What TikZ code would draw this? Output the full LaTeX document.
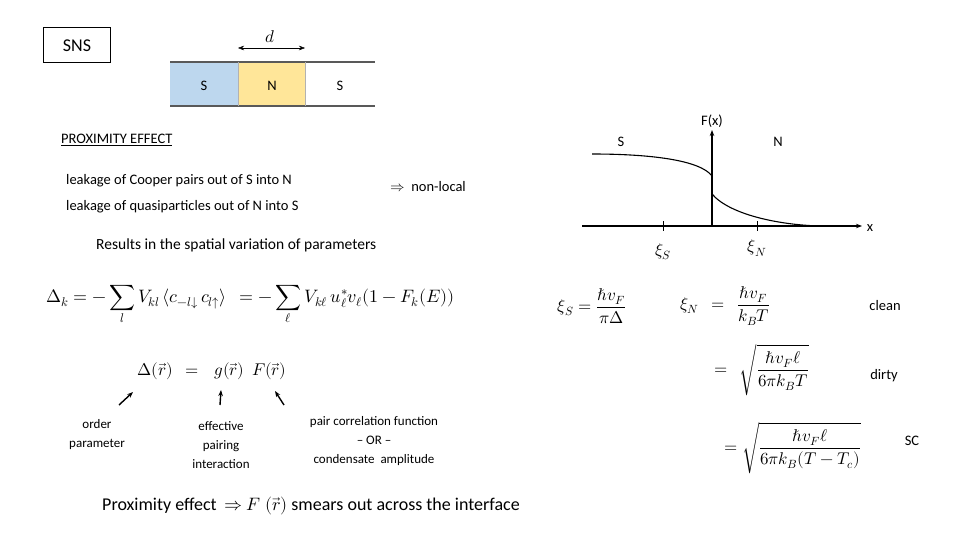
\documentclass[tikz,border=0pt]{standalone}
\usepackage{amsmath,amssymb}
\usepackage{fontspec}
\setmainfont{Carlito}
\usepackage{unicode-math}
\setmathfont{Latin Modern Math}
\usetikzlibrary{arrows.meta}
\begin{document}
\begin{tikzpicture}[x=1pt,y=-1pt,
 txt/.style={font=\fontsize{14.5}{17.5}\selectfont, inner sep=0pt},
 eq/.style={font=\fontsize{17}{20}\selectfont, inner sep=0pt},
 arr/.style={-{Stealth[length=6pt]}, line width=1.4pt}]
\useasboundingbox (0,0) rectangle (960,540);
% SNS
\node[draw, line width=1pt, minimum width=67pt, minimum height=35pt, font=\fontsize{18}{20}\selectfont] (sns) at (77,45.5) {SNS};
\path[fill={rgb,255:red,189;green,215;blue,238}] (170,62) rectangle (238,106);
\path[fill={rgb,255:red,255;green,230;blue,153}] (238,62) rectangle (305,106);
\draw[line width=1.5pt,gray!70!black] (170,62) -- (375,62) (170,106) -- (375,106);
\draw[gray!60] (238,62) -- (238,106) (305,62) -- (305,106);
\node[txt] (s1) at (204,86) {S};
\node[txt] (n1) at (272,86) {N};
\node[txt] (s2) at (340,86) {S};
\coordinate (dl) at (238,48); \coordinate (dr) at (305,48);
\draw[{Stealth[length=6pt]}-{Stealth[length=6pt]}] (dl) -- (dr);
\node[eq] (d) at (270,37) {$d$};
% texts
\node[txt, anchor=west] (pe) at (61,140) {\underline{PROXIMITY EFFECT}};
\node[txt, anchor=west] (l1) at (66,181) {leakage of Cooper pairs out of S into N};
\node[txt, anchor=west] (l2) at (66,207) {leakage of quasiparticles out of N into S};
\node[txt, anchor=west] (nl) at (390,187) {$\Rightarrow$\ \ non-local};
\node[txt, anchor=west, font=\fontsize{15.5}{17}\selectfont] (res) at (96,245) {Results in the spatial variation of parameters};
% graph
\coordinate (xa) at (582,226); \coordinate (xb) at (862,226);
\coordinate (ya) at (712,226); \coordinate (yb) at (712,130);
\draw[arr, line width=1.2pt] (xa) -- (xb);
\draw[arr, line width=1.2pt] (ya) -- (yb);
\node[txt] (Fx) at (712,121) {F(x)};
\node[txt] (xl) at (870,228) {x};
\node[txt] (gs) at (621,142) {S};
\node[txt] (gn) at (778,142) {N};
\draw[line width=1.1pt] (592,154) .. controls (650,154) and (700,160) .. (712,176);
\draw[line width=1.1pt] (712,194) .. controls (730,215) and (780,225) .. (820,226);
\draw (663,221) -- (663,231) (757,221) -- (757,231);
\node[eq] (xs) at (663,252) {$\xi_S$};
\node[eq] (xn) at (757,248) {$\xi_N$};
% equations
\node[eq, anchor=west, font=\fontsize{18}{20}\selectfont] (e1) at (46,305) {$\Delta_k=-\displaystyle\sum_l V_{kl}\,\langle c_{-l\downarrow}\,c_{l\uparrow}\rangle\ \ =-\sum_\ell V_{k\ell}\,u^*_\ell v_\ell(1-F_k(E))$};
\node[eq] (e2) at (212,371) {$\Delta(\vec r)\ \ =\ \ \ g(\vec r)\ \ F(\vec r)$};
\coordinate (a1s) at (119,405); \coordinate (a1e) at (133,392);
\coordinate (a2s) at (220,405); \coordinate (a2e) at (221,390);
\coordinate (a3s) at (284,405); \coordinate (a3e) at (275,391);
\draw[arr] (a1s) -- (a1e);
\draw[arr] (a2s) -- (a2e);
\draw[arr] (a3s) -- (a3e);
\node[txt, align=center, font=\fontsize{13}{19}\selectfont] (op) at (97,435) {order\\parameter};
\node[txt, align=center, font=\fontsize{13}{19}\selectfont] (ep) at (221,445) {effective\\pairing\\interaction};
\node[txt, align=center, font=\fontsize{13}{19}\selectfont] (pc) at (374,441) {pair correlation function\\-- OR --\\condensate\ \ amplitude};
\node[txt, anchor=west, font=\fontsize{18}{20}\selectfont] (pr) at (102,506) {Proximity effect\ \ $\Rightarrow$\ $F\ (\vec r)$ smears out across the interface};
% right equations
\node[eq] (xs1) at (592,306) {$\xi_S=\dfrac{\hbar v_F}{\pi\Delta}$};
\node[eq, anchor=west] (xn1) at (680,306) {$\xi_N\ \ =\ \ \dfrac{\hbar v_F}{k_BT}$};
\node[eq, anchor=west] (xn2) at (714,370) {$=\ \ \sqrt{\dfrac{\hbar v_F\ell}{6\pi k_BT}}$};
\node[eq, anchor=west] (xn3) at (724,448) {$=\sqrt{\dfrac{\hbar v_F\ell}{6\pi k_B(T-T_c)}}$};
\node[txt] (cl) at (885,306) {clean};
\node[txt] (di) at (884,376) {dirty};
\node[txt] (sc) at (912,441) {SC};
\end{tikzpicture}
\end{document}
